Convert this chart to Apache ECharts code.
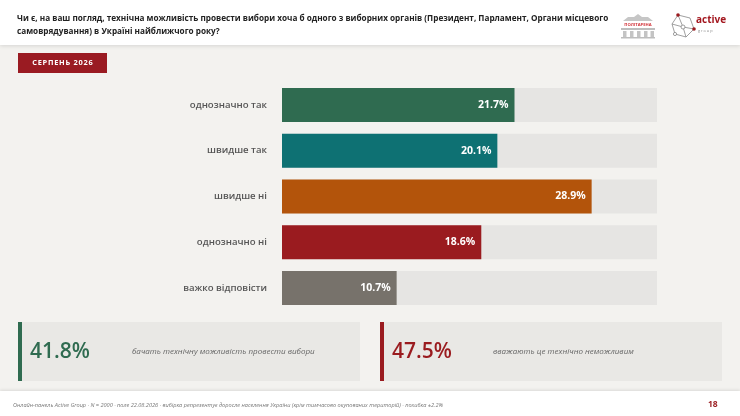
<!DOCTYPE html>
<html><head><meta charset="utf-8">
<script src="https://cdn.jsdelivr.net/npm/echarts@6/dist/echarts.min.js"></script>
<style>html,body{margin:0;padding:0;background:#f3f2ef}#c{width:740px;height:416px}</style>
</head><body><div id="c"></div>
<script>
const categories = ['однозначно так','швидше так','швидше ні','однозначно ні','важко відповісти'];
const values = [21.7, 20.1, 28.9, 18.6, 10.7];
const barColors = ['#2f6b50','#0e7173','#b3540b','#9a1b1f','#77726b'];
const summaryValues = ['41.8%','47.5%'];
const summaryTexts = ['бачать технічну можливість провести вибори','вважають це технічно неможливим'];
const titleLines = ['Чи є, на ваш погляд, технічна можливість провести вибори хоча б одного з виборних органів (Президент, Парламент, Органи місцевого','самоврядування) в Україні найближчого року?'];
const periodLabel = 'СЕРПЕНЬ 2026';
const footerText = 'Онлайн-панель Active Group · N = 2000 · поле 22.08.2026 · вибірка репрезентує доросле населення України (крім тимчасово окупованих територій) · похибка ±2.2%';
const pageNo = '18';

const chart = echarts.init(document.getElementById('c'), null, {renderer:'canvas'});
const F = '"Open Sans", "DejaVu Sans", sans-serif';
const spaced = s => s.split('').join('\u200A');

const graphics = [
  {type:'rect', shape:{x:0,y:0,width:740,height:45}, style:{fill:'#ffffff', shadowBlur:4, shadowColor:'rgba(0,0,0,0.12)', shadowOffsetY:1}, z:-1},
  {type:'text', left:17, top:15, style:{text:titleLines[0], fontFamily:F, fontSize:8.2, fontWeight:'bold', fill:'#222'}},
  {type:'text', left:17, top:28, style:{text:titleLines[1], fontFamily:F, fontSize:8.2, fontWeight:'bold', fill:'#222'}},
  // Politarena logo
  {type:'polygon', shape:{points:[[623,21],[628,17],[634,17],[638,14],[642,17],[648,17],[653,21]]}, style:{fill:'#c6c6c6'}},
  {type:'text', x:638, y:24.5, style:{text:'ПОЛІТАРЕНА', fontFamily:F, fontSize:4.2, fontWeight:'bold', fill:'#d2333a', align:'center', verticalAlign:'middle'}},
  {type:'rect', shape:{x:621,y:28,width:34,height:2}, style:{fill:'#bdbdbd'}},
  {type:'rect', shape:{x:623,y:31,width:3.5,height:6}, style:{fill:'#c4c4c4'}},
  {type:'rect', shape:{x:630,y:31,width:3.5,height:6}, style:{fill:'#c4c4c4'}},
  {type:'rect', shape:{x:637,y:31,width:3.5,height:6}, style:{fill:'#c4c4c4'}},
  {type:'rect', shape:{x:644,y:31,width:3.5,height:6}, style:{fill:'#c4c4c4'}},
  {type:'rect', shape:{x:650.5,y:31,width:3.5,height:6}, style:{fill:'#c4c4c4'}},
  {type:'rect', shape:{x:621,y:37,width:34,height:1.5}, style:{fill:'#bdbdbd'}},
  // Active group logo
  {type:'polyline', shape:{points:[[678,15],[690,18],[694,29],[686,37],[675,34],[672,24],[678,15]]}, style:{stroke:'#888', lineWidth:0.8, fill:null}},
  {type:'polyline', shape:{points:[[678,15],[683,27],[694,29]]}, style:{stroke:'#888', lineWidth:0.8, fill:null}},
  {type:'polyline', shape:{points:[[672,24],[683,27],[686,37]]}, style:{stroke:'#888', lineWidth:0.8, fill:null}},
  {type:'circle', shape:{cx:678,cy:15,r:1.8}, style:{fill:'#9a1b1f'}},
  {type:'circle', shape:{cx:694,cy:29,r:1.8}, style:{fill:'#9a1b1f'}},
  {type:'circle', shape:{cx:683,cy:27,r:2}, style:{fill:'#fff', stroke:'#888', lineWidth:0.8}},
  {type:'circle', shape:{cx:675,cy:34,r:1.6}, style:{fill:'#fff', stroke:'#888', lineWidth:0.8}},
  {type:'text', left:696, top:15, style:{text:'active', fontFamily:F, fontSize:10, fontWeight:'bold', fill:'#a3171f'}},
  {type:'text', left:698, top:29, style:{text:'g r o u p', fontFamily:F, fontSize:3.8, fill:'#888'}},
  // period label
  {type:'rect', shape:{x:18,y:53,width:89,height:20}, style:{fill:'#9a1b22'}},
  {type:'text', x:62.5, y:63, style:{text:spaced(periodLabel), fontFamily:F, fontSize:7.4, fontWeight:'bold', fill:'#fff', align:'center', verticalAlign:'middle'}},
  // summary boxes
  {type:'rect', shape:{x:18,y:322,width:342,height:59}, style:{fill:'#e9e8e5'}},
  {type:'rect', shape:{x:18,y:322,width:4,height:59}, style:{fill:'#2f6b50'}},
  {type:'text', left:30, y:352, style:{text:summaryValues[0], fontFamily:F, fontSize:21, fontWeight:600, fill:'#2f6b50', verticalAlign:'middle'}},
  {type:'text', left:132, y:352, style:{text:summaryTexts[0], fontFamily:F, fontSize:8, fontStyle:'italic', fill:'#666', verticalAlign:'middle'}},
  {type:'rect', shape:{x:380,y:322,width:342,height:59}, style:{fill:'#e9e8e5'}},
  {type:'rect', shape:{x:380,y:322,width:4,height:59}, style:{fill:'#9a1b1f'}},
  {type:'text', left:392, y:352, style:{text:summaryValues[1], fontFamily:F, fontSize:21, fontWeight:600, fill:'#9a1b1f', verticalAlign:'middle'}},
  {type:'text', left:493, y:352, style:{text:summaryTexts[1], fontFamily:F, fontSize:8, fontStyle:'italic', fill:'#666', verticalAlign:'middle'}},
  // footer
  {type:'rect', shape:{x:0,y:391,width:740,height:25}, style:{fill:'#ffffff', shadowBlur:3, shadowColor:'rgba(0,0,0,0.10)', shadowOffsetY:-1}, z:-1},
  {type:'text', left:13, y:405, style:{text:footerText, fontFamily:F, fontSize:5.6, fontStyle:'italic', fill:'#777', verticalAlign:'middle'}},
  {type:'text', left:708, y:405, style:{text:pageNo, fontFamily:F, fontSize:8.5, fontWeight:'bold', fill:'#9a1b1f', verticalAlign:'middle'}}
];

chart.setOption({
  backgroundColor:'#f3f2ef',
  animation:false,
  graphic: graphics,
  grid:{left:282, right:83, top:82, bottom:105, containLabel:false},
  xAxis:{type:'value', min:0, max:35, show:false},
  yAxis:{type:'category', data:categories, inverse:true, axisLine:{show:false}, axisTick:{show:false},
    axisLabel:{margin:15, fontFamily:F, fontSize:9.6, fontWeight:600, color:'#555'}},
  series:[{
    type:'bar', data:values.map((v,i)=>({value:v, itemStyle:{color:barColors[i]}})),
    barWidth:34, showBackground:true, backgroundStyle:{color:'#e6e5e3'},
    label:{show:true, position:'insideRight', distance:6, formatter:p=>p.value.toFixed(1)+'%', fontFamily:F, fontSize:10.5, fontWeight:'bold', color:'#fff'}
  }]
});
</script></body></html>
